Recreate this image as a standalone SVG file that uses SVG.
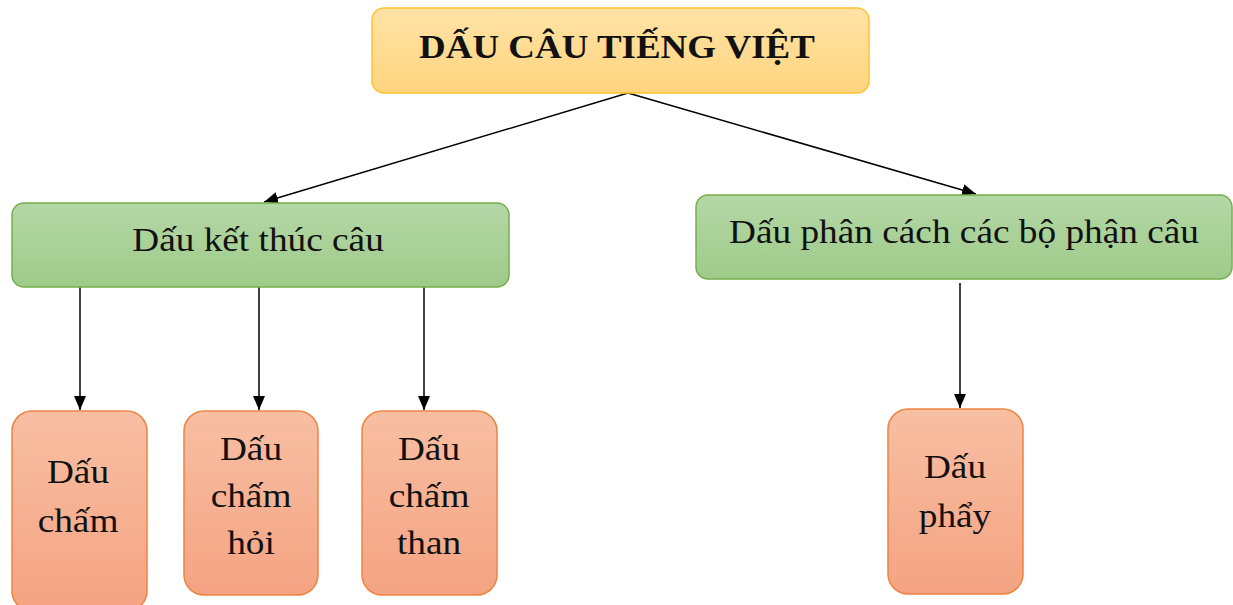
<svg xmlns="http://www.w3.org/2000/svg" width="1233" height="605" viewBox="0 0 1233 605">
<defs>
<linearGradient id="gy" x1="0" y1="0" x2="0" y2="1"><stop offset="0" stop-color="#FFE3A6"/><stop offset="1" stop-color="#FFD47E"/></linearGradient>
<linearGradient id="gg" x1="0" y1="0" x2="0" y2="1"><stop offset="0" stop-color="#B5D7A7"/><stop offset="1" stop-color="#9ECB89"/></linearGradient>
<linearGradient id="go" x1="0" y1="0" x2="0" y2="1"><stop offset="0" stop-color="#F8BFA3"/><stop offset="1" stop-color="#F4A382"/></linearGradient>
<marker id="ah" markerWidth="14" markerHeight="12" refX="14" refY="6" orient="auto" markerUnits="userSpaceOnUse"><path d="M0,0 L14,6 L0,12 Z" fill="#000"/></marker>
<style>
.y{fill:url(#gy);stroke:#FFC233;stroke-width:1.5}
.g{fill:url(#gg);stroke:#74AE4C;stroke-width:1.5}
.o{fill:url(#go);stroke:#EE8440;stroke-width:1.5}
.t{font-family:"Liberation Serif","Times New Roman",serif;fill:#111;text-anchor:middle;font-size:33px}
.c{stroke:#000;stroke-width:1.5;fill:none;marker-end:url(#ah)}
</style>
</defs>
<g id="connectors">
<line class="c" x1="628" y1="93" x2="264" y2="202"/>
<line class="c" x1="628" y1="93" x2="976" y2="194"/>
<line class="c" x1="80" y1="287" x2="80" y2="410"/>
<line class="c" x1="259" y1="287" x2="259" y2="410"/>
<line class="c" x1="424" y1="287" x2="424" y2="410"/>
<line class="c" x1="960" y1="283" x2="960" y2="408"/>
</g>
<g id="root">
<rect class="y" x="372" y="8" width="497" height="85" rx="12"/>
<text class="t" transform="matrix(1.12 0 0 1 617 0)" x="0" y="58" font-weight="bold">DẤU CÂU TIẾNG VIỆT</text>
</g>
<g id="ketthuc">
<rect class="g" x="12" y="203" width="497" height="84" rx="12"/>
<text class="t" transform="matrix(1.13 0 0 1 258 0)" x="0" y="251">Dấu kết thúc câu</text>
</g>
<g id="phancach">
<rect class="g" x="696" y="195" width="536" height="84" rx="12"/>
<text class="t" transform="matrix(1.13 0 0 1 964 0)" x="0" y="243">Dấu phân cách các bộ phận câu</text>
</g>
<g id="cham">
<rect class="o" x="12" y="411" width="135" height="200" rx="20"/>
<text class="t" transform="matrix(1.13 0 0 1 78 0)" x="0" y="483">Dấu</text>
<text class="t" transform="matrix(1.13 0 0 1 78 0)" x="0" y="532">chấm</text>
</g>
<g id="chamhoi">
<rect class="o" x="184" y="411" width="134" height="184" rx="20"/>
<text class="t" transform="matrix(1.13 0 0 1 251 0)" x="0" y="460">Dấu</text>
<text class="t" transform="matrix(1.13 0 0 1 251 0)" x="0" y="507">chấm</text>
<text class="t" transform="matrix(1.13 0 0 1 251 0)" x="0" y="554">hỏi</text>
</g>
<g id="chamthan">
<rect class="o" x="362" y="411" width="135" height="184" rx="20"/>
<text class="t" transform="matrix(1.13 0 0 1 429 0)" x="0" y="460">Dấu</text>
<text class="t" transform="matrix(1.13 0 0 1 429 0)" x="0" y="507">chấm</text>
<text class="t" transform="matrix(1.13 0 0 1 429 0)" x="0" y="554">than</text>
</g>
<g id="phay">
<rect class="o" x="888" y="409" width="135" height="185" rx="20"/>
<text class="t" transform="matrix(1.13 0 0 1 955 0)" x="0" y="478">Dấu</text>
<text class="t" transform="matrix(1.13 0 0 1 955 0)" x="0" y="527">phẩy</text>
</g>
</svg>
